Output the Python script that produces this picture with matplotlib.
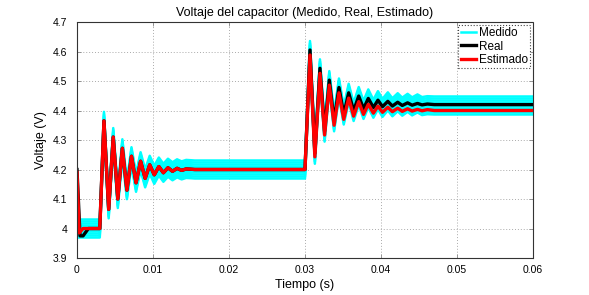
import matplotlib
matplotlib.use('Agg')
import matplotlib.pyplot as plt
from matplotlib import transforms

plt.rcParams['font.family'] = ['Liberation Sans', 'DejaVu Sans']

# Real (negro)
real_t = [0, 0.0004, 0.0008, 0.0015, 0.003,
          0.00355, 0.00417, 0.00477, 0.00537, 0.00597, 0.00657, 0.00717, 0.00777,
          0.00837, 0.00897, 0.00957, 0.01017, 0.01077, 0.01137, 0.01197, 0.01257,
          0.01317, 0.01377, 0.01437, 0.0155, 0.03,
          0.03066, 0.0313, 0.03197, 0.03258, 0.0332, 0.03383, 0.03447, 0.0351,
          0.03575, 0.0364, 0.03707, 0.0377, 0.03833, 0.039, 0.0396, 0.0402,
          0.0409, 0.0415, 0.0422, 0.0428, 0.0435, 0.0441, 0.0448, 0.0454,
          0.0461, 0.047, 0.06]
real_v = [4.2, 3.975, 3.975, 4.0, 4.0,
          4.365, 4.065, 4.31, 4.10, 4.272, 4.13, 4.245, 4.155,
          4.228, 4.17, 4.216, 4.182, 4.21, 4.189, 4.206, 4.194,
          4.204, 4.197, 4.202, 4.2, 4.2,
          4.605, 4.255, 4.543, 4.33, 4.503, 4.365, 4.478, 4.387,
          4.46, 4.399, 4.449, 4.406, 4.441, 4.41, 4.435, 4.413,
          4.431, 4.415, 4.428, 4.417, 4.426, 4.418, 4.424, 4.419,
          4.422, 4.42, 4.42]

# Estimado (rojo)
est_t = [0, 0.0003, 0.0008, 0.003,
         0.00355, 0.00417, 0.00477, 0.00537, 0.00597, 0.00657, 0.00717, 0.00777,
         0.00837, 0.00897, 0.00957, 0.01017, 0.01077, 0.01137, 0.01197, 0.01257,
         0.01317, 0.01377, 0.01437, 0.0155, 0.03,
         0.03066, 0.0313, 0.03197, 0.03258, 0.0332, 0.03383, 0.03447, 0.0351,
         0.03575, 0.0364, 0.03707, 0.0377, 0.03833, 0.039, 0.0396, 0.0402,
         0.0409, 0.0415, 0.0422, 0.0428, 0.0435, 0.0441, 0.0448, 0.0454,
         0.0461, 0.047, 0.06]
est_v = [4.19, 3.985, 4.0, 4.0,
         4.365, 4.065, 4.31, 4.10, 4.272, 4.13, 4.245, 4.155,
         4.228, 4.17, 4.216, 4.182, 4.21, 4.189, 4.206, 4.194,
         4.204, 4.197, 4.202, 4.2, 4.2,
         4.588, 4.243, 4.526, 4.317, 4.486, 4.35, 4.46, 4.37,
         4.442, 4.381, 4.43, 4.387, 4.421, 4.391, 4.415, 4.394,
         4.411, 4.396, 4.408, 4.397, 4.406, 4.398, 4.404, 4.399,
         4.403, 4.40, 4.40]

# Medido (cian), centro de la banda de ruido
med_t = [0, 0.003,
         0.00355, 0.00417, 0.00477, 0.00537, 0.00597, 0.00657, 0.00717, 0.00777,
         0.00837, 0.00897, 0.00957, 0.01017, 0.01077, 0.01137, 0.01197, 0.01257,
         0.01317, 0.01377, 0.01437, 0.0155, 0.03,
         0.03066, 0.0313, 0.03197, 0.03258, 0.0332, 0.03383, 0.03447, 0.0351,
         0.03575, 0.0364, 0.03707, 0.0377, 0.03833, 0.039, 0.0396, 0.0402,
         0.0409, 0.0415, 0.0422, 0.0428, 0.0435, 0.0441, 0.0448, 0.0454,
         0.0461, 0.047, 0.06]
med_v = [4.0, 4.0,
         4.365, 4.065, 4.31, 4.10, 4.272, 4.13, 4.245, 4.155,
         4.228, 4.17, 4.216, 4.182, 4.21, 4.189, 4.206, 4.194,
         4.204, 4.197, 4.202, 4.2, 4.2,
         4.605, 4.25, 4.543, 4.325, 4.503, 4.36, 4.478, 4.383,
         4.46, 4.395, 4.449, 4.402, 4.441, 4.406, 4.435, 4.409,
         4.431, 4.411, 4.428, 4.413, 4.426, 4.414, 4.424, 4.415,
         4.418, 4.417, 4.417]

xticks = [0, 0.01, 0.02, 0.03, 0.04, 0.05, 0.06]
xtick_labels = ['0', '0.01', '0.02', '0.03', '0.04', '0.05', '0.06']
yticks = [3.9, 4.0, 4.1, 4.2, 4.3, 4.4, 4.5, 4.6, 4.7]
ytick_labels = ['3.9', '4', '4.1', '4.2', '4.3', '4.4', '4.5', '4.6', '4.7']

fig = plt.figure(figsize=(5.89, 2.95), dpi=100)
ax = fig.add_axes([0.1307, 0.1254, 0.7742, 0.80])

# banda de ruido del medido: la misma curva desplazada en vertical
for dy in range(-9, 10, 2):
    tr = transforms.offset_copy(ax.transData, fig=fig, x=0, y=dy, units='dots')
    ax.plot(med_t, med_v, color='cyan', lw=1.8, transform=tr,
            solid_joinstyle='round', label='Medido' if dy == -1 else None)

ax.plot(real_t, real_v, color='black', lw=2.4, label='Real', solid_joinstyle='round')
ax.plot(est_t, est_v, color='red', lw=2.4, label='Estimado', solid_joinstyle='round')

ax.set_xlim(0, 0.06)
ax.set_ylim(3.9, 4.7)
ax.set_xticks(xticks)
ax.set_xticklabels(xtick_labels)
ax.set_yticks(yticks)
ax.set_yticklabels(ytick_labels)
ax.tick_params(direction='in', length=3, width=0.6, top=True, right=True,
               labelsize=7.5, color='#888888')
ax.tick_params(axis='x', pad=5)
ax.tick_params(axis='y', pad=7)
ax.grid(True, linestyle=(0, (1, 2)), color='#aaaaaa', linewidth=0.7)
for s in ax.spines.values():
    s.set_linestyle((0, (2, 1)))
    s.set_linewidth(0.8)
    s.set_color('#333333')

ax.set_title('Voltaje del capacitor (Medido, Real, Estimado)', fontsize=9, pad=4)
ax.set_xlabel('Tiempo (s)', fontsize=9, labelpad=3)
ax.set_ylabel('Voltaje (V)', fontsize=9, labelpad=4)

leg = ax.legend(loc='upper right', fontsize=8.5, handlelength=1.3, handletextpad=0.2,
                borderaxespad=0.25, borderpad=0.2, labelspacing=0.1,
                fancybox=False, framealpha=1)
leg.get_frame().set_edgecolor('#444444')
leg.get_frame().set_linestyle(':')
leg.get_frame().set_linewidth(0.8)

fig.savefig('out.png', dpi=100)
